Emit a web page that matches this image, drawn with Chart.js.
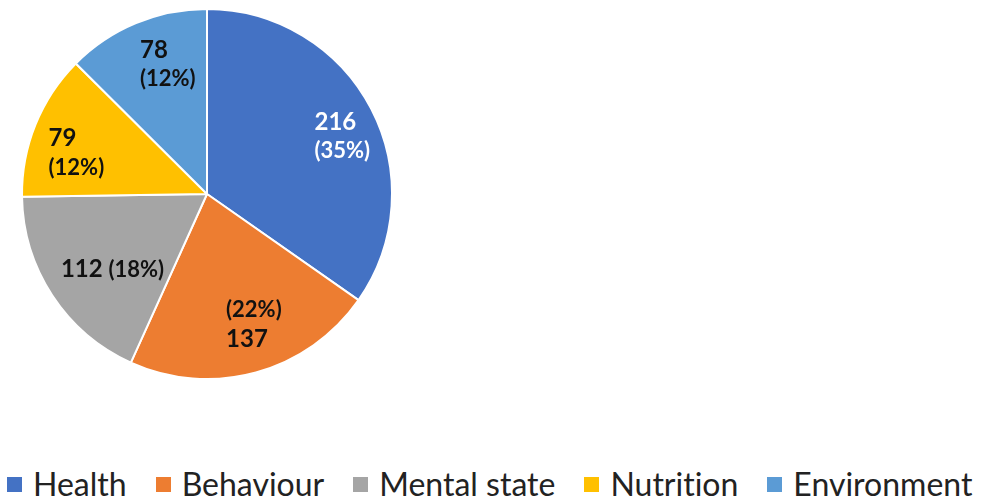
<!DOCTYPE html>
<html><head><meta charset="utf-8">
<script src="https://cdn.jsdelivr.net/npm/chart.js@4.4.1/dist/chart.umd.min.js"></script>
<style>
html,body{margin:0;padding:0;background:#fff;width:1004px;height:500px;overflow:hidden;font-family:Lato,sans-serif}
#wrap{position:absolute;left:0;top:0;width:414px;height:388px}
#legend{position:absolute;left:7px;top:468px;display:flex;align-items:center;font-size:32px;line-height:32px;color:#222;white-space:nowrap;font-variant-ligatures:none;font-feature-settings:"liga" 0}
.item{display:flex;align-items:center;margin-right:29px}
.box{width:15px;height:15px;margin-right:11px}
</style></head><body>
<div id="wrap"><canvas id="c" width="414" height="388"></canvas></div>
<div id="legend"></div>
<script>
const categories = ['Health', 'Behaviour', 'Mental state', 'Nutrition', 'Environment'];
const counts = [216, 137, 112, 79, 78];
const percentLabels = ['35%', '22%', '18%', '12%', '12%'];
const colors = ['#4472C4', '#ED7D31', '#A5A5A5', '#FFC000', '#5B9BD5'];

// label placement relative to each slice: angle shift (deg) from slice middle, distance as fraction of radius
const labelPlacement = [
  {shift: 4.6, r: 0.794, lines: ['v', 'p'], color: '#ffffff'},
  {shift: -4.4, r: 0.75, lines: ['p', 'v'], color: '#111111'},
  {shift: -5.4, r: 0.654, lines: ['vp'], color: '#111111'},
  {shift: -4.6, r: 0.74, lines: ['v', 'p'], color: '#111111'},
  {shift: 5.7, r: 0.73, lines: ['v', 'p'], color: '#111111'}
];
const valueFont = 'bold 24px Lato';
const pctFont = 'bold 22px Lato';
const lineGap = 29;

const sliceLabels = {
  id: 'sliceLabels',
  afterDatasetsDraw(chart) {
    const ctx = chart.ctx;
    const meta = chart.getDatasetMeta(0);
    meta.data.forEach((arc, i) => {
      const {x, y, startAngle, endAngle, outerRadius} = arc.getProps(['x', 'y', 'startAngle', 'endAngle', 'outerRadius'], true);
      const pl = labelPlacement[i];
      const a = (startAngle + endAngle) / 2 + pl.shift * Math.PI / 180;
      const cx = x + Math.cos(a) * outerRadius * pl.r;
      const cy = y + Math.sin(a) * outerRadius * pl.r;
      const v = String(counts[i]);
      const p = '(' + percentLabels[i] + ')';
      ctx.save();
      const lines = pl.lines.map(code => {
        let segs;
        if (code === 'v') segs = [[v, valueFont]];
        else if (code === 'p') segs = [[p, pctFont]];
        else segs = [[v + ' ', valueFont], [p, pctFont]];
        let w = 0;
        segs.forEach(s => { ctx.font = s[1]; s.push(ctx.measureText(s[0]).width); w += s[2]; });
        return {segs, w};
      });
      const bw = Math.max(...lines.map(l => l.w));
      const left = cx - bw / 2;
      ctx.fillStyle = pl.color;
      ctx.textBaseline = 'middle';
      ctx.textAlign = 'left';
      lines.forEach((l, k) => {
        const ly = cy + (k - (lines.length - 1) / 2) * lineGap;
        let lx = left;
        l.segs.forEach(s => { ctx.font = s[1]; ctx.fillText(s[0], lx, ly); lx += s[2]; });
      });
      ctx.restore();
    });
  }
};

const chart = new Chart(document.getElementById('c'), {
  type: 'pie',
  data: {
    labels: categories,
    datasets: [{data: counts, backgroundColor: colors, borderColor: '#ffffff', borderWidth: 2}]
  },
  options: {
    responsive: false,
    animation: false,
    layout: {padding: {left: 21, right: 21, top: 8, bottom: 8}},
    plugins: {legend: {display: false}, tooltip: {enabled: false}}
  },
  plugins: [sliceLabels]
});

const legendEl = document.getElementById('legend');
const items = chart.options.plugins.legend.labels.generateLabels(chart);
items.forEach(it => {
  const d = document.createElement('div');
  d.className = 'item';
  const b = document.createElement('span');
  b.className = 'box';
  b.style.background = it.fillStyle;
  const t = document.createElement('span');
  t.textContent = it.text;
  d.appendChild(b); d.appendChild(t);
  legendEl.appendChild(d);
});
</script>
</body></html>
